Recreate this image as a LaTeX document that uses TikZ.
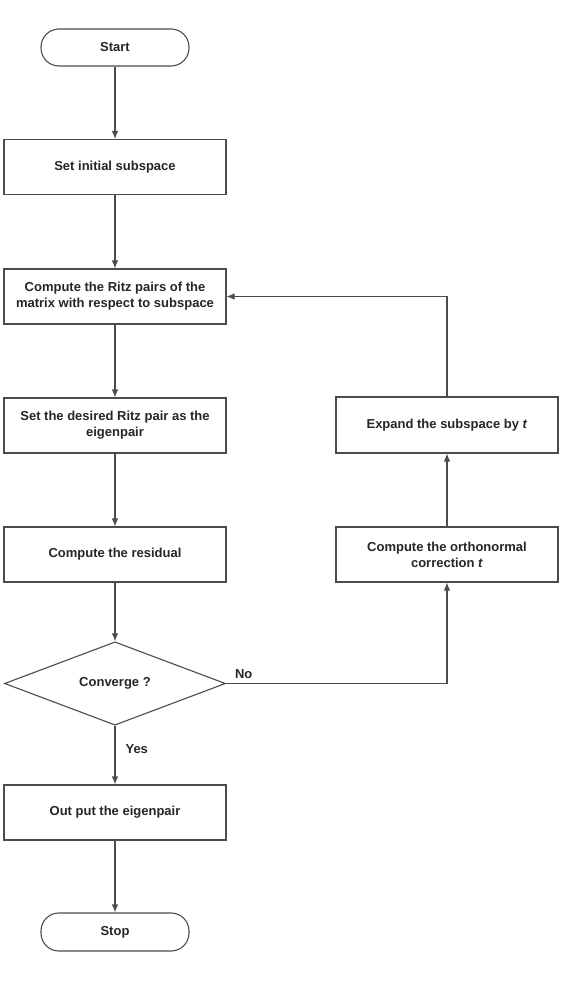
\documentclass[tikz,border=0pt]{standalone}
\usepackage{fontspec}
\setmainfont{Liberation Sans}
\usetikzlibrary{shapes.geometric,arrows.meta}
\begin{document}
\begin{tikzpicture}[x=1pt,y=-1pt,
  every node/.style={font=\fontsize{13}{16}\selectfont\bfseries, text=black!85},
  box/.style={draw=black!70, line width=1.1pt, fill=white, rectangle, minimum width=222pt, minimum height=55pt, align=center, inner sep=0pt},
  term/.style={draw=black!70, line width=1.1pt, fill=white, rectangle, rounded corners=18pt, minimum width=148pt, minimum height=37pt, inner sep=0pt},
  dec/.style={draw=black!70, line width=1.1pt, fill=white, diamond, minimum width=221pt, minimum height=55pt, inner sep=0pt},
  arr/.style={draw=black!70, line width=1.1pt, -{Latex[length=8pt,width=6.5pt]}},
  lbl/.style={font=\fontsize{13}{16}\selectfont\bfseries, inner sep=0pt}
]
\useasboundingbox (0,0) rectangle (562,985);
\node[term] (start) at (115,47.5) {Start};
\node[box] (init) at (115,167) {Set initial subspace};
\node[box] (ritz) at (115,296.5) {Compute the Ritz pairs of the\\matrix with respect to subspace};
\node[box] (des) at (115,425.5) {Set the desired Ritz pair as the\\eigenpair};
\node[box] (res) at (115,554.5) {Compute the residual};
\node[dec] (conv) at (115,683.5) {Converge ?};
\node[box] (out) at (115,812.5) {Out put the eigenpair};
\node[term, minimum height=38pt] (stop) at (115,932) {Stop};
\node[box, minimum height=56pt] (exp) at (447,425) {Expand the subspace by \textit{t}};
\node[box] (orth) at (447,554.5) {Compute the orthonormal\\correction \textit{t}};
\draw[arr] (start) -- (init);
\draw[arr] (init) -- (ritz);
\draw[arr] (ritz) -- (des);
\draw[arr] (des) -- (res);
\draw[arr] (res) -- (conv);
\draw[arr] (conv) -- node[lbl, pos=0.4, right=10pt] {Yes} (out);
\draw[arr] (out) -- (stop);
\draw[arr] (conv.east) -| node[lbl, pos=0.04, above=4pt] {No} (orth.south);
\draw[arr] (exp.north) |- (ritz.east);
\draw[arr] (orth) -- (exp);
\end{tikzpicture}
\end{document}
